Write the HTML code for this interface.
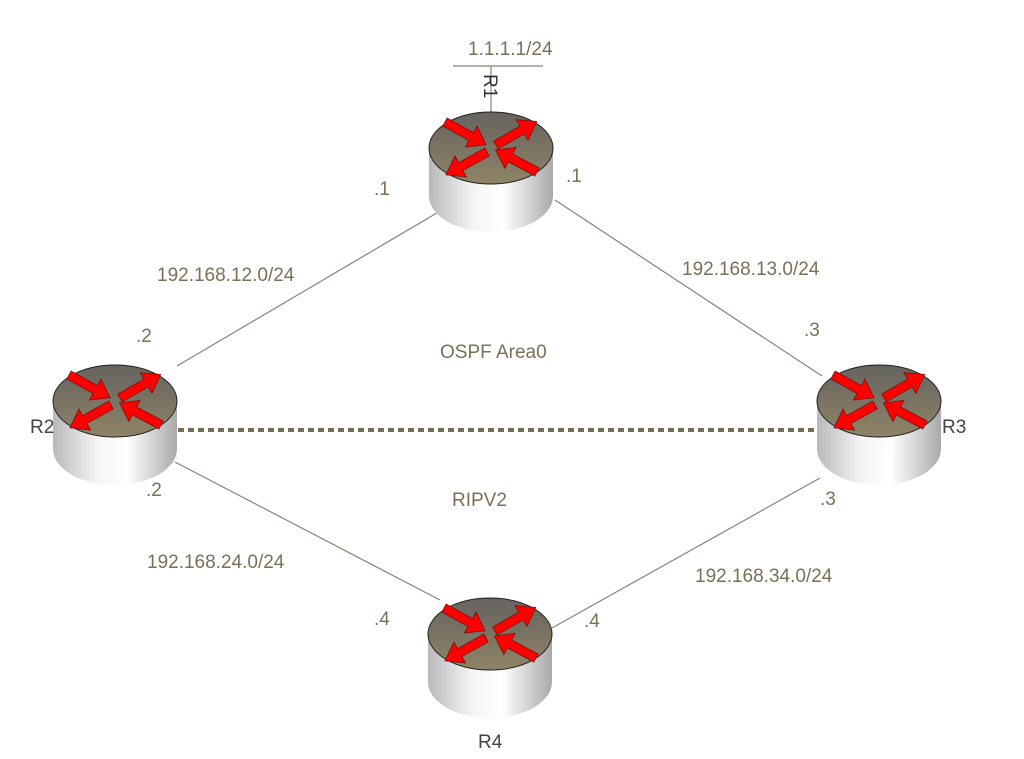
<!DOCTYPE html>
<html><head><meta charset="utf-8"><style>
html,body{margin:0;padding:0;background:#fff;}
svg{display:block}
text{font-family:"Liberation Sans",sans-serif;font-size:19px;fill:#7a7055}
</style></head><body>
<svg width="1024" height="759" viewBox="0 0 1024 759" xmlns="http://www.w3.org/2000/svg">
<defs>
<linearGradient id="body" x1="0" x2="1" y1="0" y2="0">
<stop offset="0" stop-color="#b9b9b9"/><stop offset="0.35" stop-color="#f4f4f4"/><stop offset="0.6" stop-color="#ffffff"/><stop offset="1" stop-color="#a9a9a9"/>
</linearGradient>
<linearGradient id="top" x1="0" x2="0" y1="0" y2="1">
<stop offset="0" stop-color="#666360"/><stop offset="1" stop-color="#8e8466"/>
</linearGradient>
<path id="arr" d="M0,-4.5 L30,-4.5 L30,-12 L47,0 L30,12 L30,4.5 L0,4.5 Z" fill="#ff0000" stroke="#7a1010" stroke-width="0.8"/>
<g id="router">
<path d="M-62,0 L-62,48 A62,36 0 0 0 62,48 L62,0 Z" fill="url(#body)"/>
<ellipse cx="0" cy="0" rx="62" ry="36" fill="url(#top)" stroke="#222" stroke-width="1"/>
<use href="#arr" transform="translate(-46,-26) rotate(29)"/>
<use href="#arr" transform="translate(5,-3) rotate(-30)"/>
<use href="#arr" transform="translate(-4,4) rotate(151)"/>
<use href="#arr" transform="translate(46,24) rotate(208)"/>
</g>
</defs>
<g stroke="#8a8470" stroke-width="1.2" fill="none">
<line x1="177" y1="366" x2="447" y2="207"/>
<line x1="555" y1="200" x2="822" y2="376"/>
<line x1="175" y1="462" x2="440" y2="600"/>
<line x1="820" y1="478" x2="552" y2="628"/>
<line x1="453" y1="66" x2="543" y2="66"/>
<line x1="491" y1="66" x2="491" y2="112"/>
</g>
<line x1="178" y1="430" x2="818" y2="430" stroke="#766e55" stroke-width="4" stroke-dasharray="6,4"/>
<use href="#router" transform="translate(491,148)"/>
<use href="#router" transform="translate(115,401)"/>
<use href="#router" transform="translate(879,401)"/>
<use href="#router" transform="translate(490,634)"/>
<text x="468" y="55">1.1.1.1/24</text>
<text x="0" y="0" transform="translate(484,74) rotate(90)" style="fill:#333">R1</text>
<text x="374" y="195">.1</text>
<text x="566" y="182">.1</text>
<text x="157" y="281">192.168.12.0/24</text>
<text x="682" y="275">192.168.13.0/24</text>
<text x="136" y="342">.2</text>
<text x="804" y="336">.3</text>
<text x="440" y="358">OSPF Area0</text>
<text x="30" y="433" style="fill:#444">R2</text>
<text x="942" y="433" style="fill:#444">R3</text>
<text x="146" y="496">.2</text>
<text x="820" y="505">.3</text>
<text x="452" y="506">RIPV2</text>
<text x="147" y="568">192.168.24.0/24</text>
<text x="695" y="582">192.168.34.0/24</text>
<text x="374" y="625">.4</text>
<text x="584" y="627">.4</text>
<text x="478" y="748" style="fill:#444">R4</text>
</svg>
</body></html>
